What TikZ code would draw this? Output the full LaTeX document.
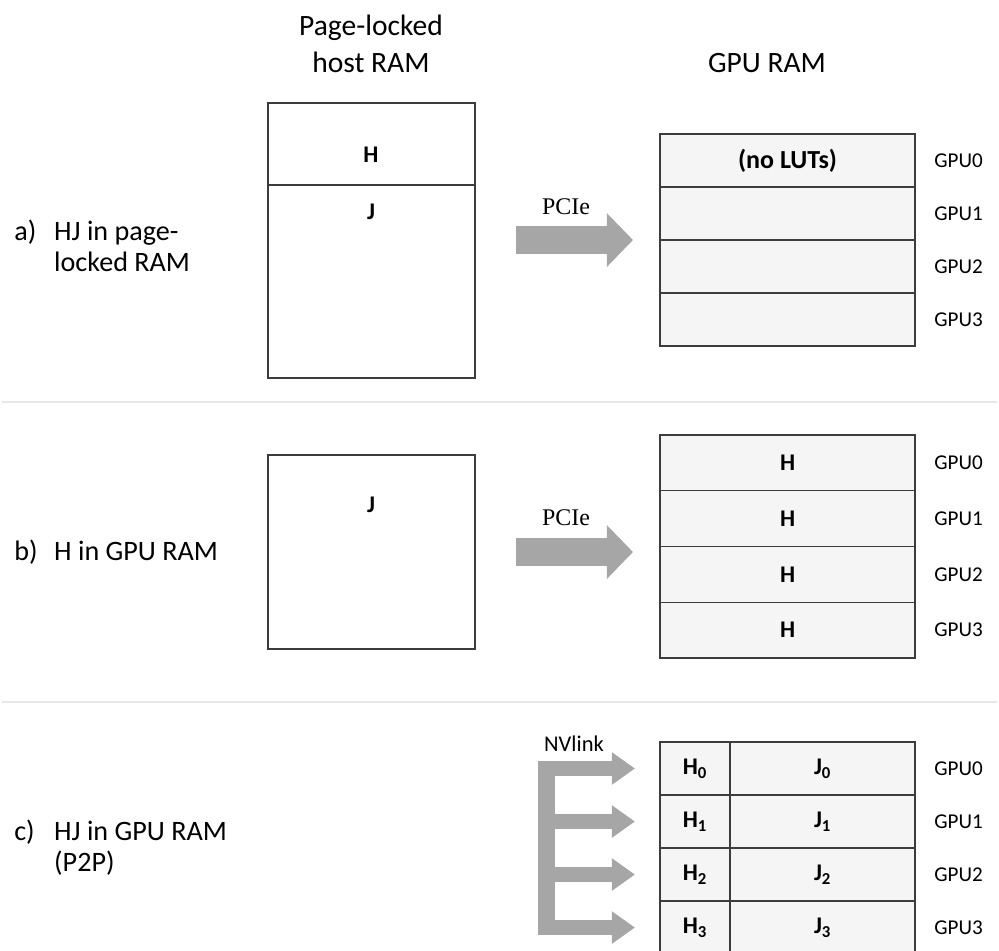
\documentclass[tikz,border=0pt]{standalone}
\usepackage{fontspec}
\setmainfont{Carlito}
\newfontfamily\pciefont{Liberation Serif}
\usetikzlibrary{arrows.meta, positioning}
\definecolor{boxline}{RGB}{60,60,60}
\definecolor{rowfill}{RGB}{245,245,245}
\definecolor{arrowgray}{RGB}{166,166,166}
\definecolor{sepgray}{RGB}{232,232,232}
\tikzset{
  hostbox/.style={rectangle, draw=boxline, fill=white, line width=1pt,
    minimum width=5.175cm, inner sep=0pt, outer sep=0pt},
  gpurow/.style={rectangle, draw=boxline, fill=rowfill, line width=1pt,
    minimum width=6.375cm, inner sep=0pt, outer sep=0pt,
    font=\fontsize{17}{20}\selectfont\bfseries},
  celltext/.style={font=\fontsize{17}{20}\selectfont\bfseries, inner sep=0pt},
  gpulabel/.style={font=\fontsize{15}{18}\selectfont, inner sep=0pt},
  heading/.style={align=center, font=\fontsize{21}{26}\selectfont, inner sep=0pt},
  caselabel/.style={anchor=west, align=left, font=\fontsize{20}{22}\selectfont, inner sep=0pt},
  pcie/.style={line width=19.9pt, draw=arrowgray,
    -{Triangle[length=18.5pt, width=37pt]}, shorten <=29.2pt, shorten >=19.2pt},
  nvarm/.style={line width=10.7pt, draw=arrowgray,
    -{Triangle[length=16.4pt, width=22pt]}, shorten >=17.8pt},
  nvbar/.style={line width=12.1pt, draw=arrowgray},
  linklabel/.style={inner sep=0pt},
  separator/.style={draw=sepgray, line width=1.4pt}
}
\begin{document}
\begin{tikzpicture}[x=0.025cm, y=-0.025cm]
  \useasboundingbox (0,0) rectangle (999,951);
  % column headings
  \node[heading] (hdrHost) at (371,44) {Page-locked\\host RAM};
  \node[heading] (hdrGpu) at (767,63) {GPU RAM};

  % section separators
  \draw[separator] (2,402) -- (997,402);
  \draw[separator] (2,702) -- (997,702);

  % a) HJ in page-locked RAM
  \node[caselabel] (caseA) at (14,246) {\makebox[1.42em][l]{a)}HJ in page-\\\hspace*{1.42em}locked RAM};
  \node[hostbox, minimum height=2.05cm, anchor=north west] (hostAH) at (268,103) {};
  \node[hostbox, minimum height=4.825cm, below=0pt of hostAH] (hostAJ) {};
  \node[celltext] (txtAH) at (371,155) {H};
  \node[celltext] (txtAJ) at (371,212) {J};
  \node[gpurow, minimum height=1.325cm, anchor=north west, font=\fontsize{18.5}{22}\selectfont\bfseries] (gA0) at (660,134) {(no LUTs)};
  \node[gpurow, minimum height=1.325cm, below=0pt of gA0] (gA1) {};
  \node[gpurow, minimum height=1.325cm, below=0pt of gA1] (gA2) {};
  \node[gpurow, minimum height=1.325cm, below=0pt of gA2] (gA3) {};
  \node[gpulabel, right=0.475cm of gA0] (lblA0) {GPU0};
  \node[gpulabel, right=0.475cm of gA1] (lblA1) {GPU1};
  \node[gpulabel, right=0.475cm of gA2] (lblA2) {GPU2};
  \node[gpulabel, right=0.475cm of gA3] (lblA3) {GPU3};
  \draw[pcie] (hostAJ.east |- gA1.south) -- (gA1.south west);
  \node[linklabel, font=\pciefont\fontsize{17}{20}\selectfont] (pcieA) at (566,207) {PCIe};

  % b) H in GPU RAM
  \node[caselabel] (caseB) at (14,552) {\makebox[1.42em][l]{b)}H in GPU RAM};
  \node[hostbox, minimum height=4.85cm, anchor=north west] (hostB) at (268,455) {};
  \node[celltext] (txtBJ) at (371,505) {J};
  \node[gpurow, minimum height=1.394cm, anchor=north west] (gB0) at (660,435) {H};
  \node[gpurow, minimum height=1.394cm, below=0pt of gB0] (gB1) {H};
  \node[gpurow, minimum height=1.394cm, below=0pt of gB1] (gB2) {H};
  \node[gpurow, minimum height=1.394cm, below=0pt of gB2] (gB3) {H};
  \node[gpulabel, right=0.475cm of gB0] (lblB0) {GPU0};
  \node[gpulabel, right=0.475cm of gB1] (lblB1) {GPU1};
  \node[gpulabel, right=0.475cm of gB2] (lblB2) {GPU2};
  \node[gpulabel, right=0.475cm of gB3] (lblB3) {GPU3};
  \draw[pcie] (hostB.east) -- (hostB.east -| gB0.west);
  \node[linklabel, font=\pciefont\fontsize{17}{20}\selectfont] (pcieB) at (566,518) {PCIe};

  % c) HJ in GPU RAM (P2P)
  \node[caselabel] (caseC) at (14,848) {\makebox[1.42em][l]{c)}HJ in GPU RAM\\\hspace*{1.42em}(P2P)};
  \node[gpurow, minimum width=1.75cm, minimum height=1.325cm, anchor=north west] (hC0) at (660,742) {H\textsubscript{0}};
  \node[gpurow, minimum width=1.75cm, minimum height=1.325cm, below=0pt of hC0] (hC1) {H\textsubscript{1}};
  \node[gpurow, minimum width=1.75cm, minimum height=1.325cm, below=0pt of hC1] (hC2) {H\textsubscript{2}};
  \node[gpurow, minimum width=1.75cm, minimum height=1.325cm, below=0pt of hC2] (hC3) {H\textsubscript{3}};
  \node[gpurow, minimum width=4.625cm, minimum height=1.325cm, right=0pt of hC0] (jC0) {J\textsubscript{0}};
  \node[gpurow, minimum width=4.625cm, minimum height=1.325cm, right=0pt of hC1] (jC1) {J\textsubscript{1}};
  \node[gpurow, minimum width=4.625cm, minimum height=1.325cm, right=0pt of hC2] (jC2) {J\textsubscript{2}};
  \node[gpurow, minimum width=4.625cm, minimum height=1.325cm, right=0pt of hC3] (jC3) {J\textsubscript{3}};
  \node[gpulabel, right=0.475cm of jC0] (lblC0) {GPU0};
  \node[gpulabel, right=0.475cm of jC1] (lblC1) {GPU1};
  \node[gpulabel, right=0.475cm of jC2] (lblC2) {GPU2};
  \node[gpulabel, right=0.475cm of jC3] (lblC3) {GPU3};
  % NVlink fan-out
  \coordinate (nvTop) at (546.5,761);
  \coordinate (nvBot) at (546.5,935);
  \draw[nvbar] (nvTop) -- (nvBot);
  \draw[nvarm] (nvTop |- hC0.west) -- (hC0.west);
  \draw[nvarm] (nvTop |- hC1.west) -- (hC1.west);
  \draw[nvarm] (nvTop |- hC2.west) -- (hC2.west);
  \draw[nvarm] (nvTop |- hC3.west) -- (hC3.west);
  \node[linklabel, font=\fontsize{16}{19}\selectfont] (nvLabel) at (574,744) {NVlink};
\end{tikzpicture}
\end{document}
